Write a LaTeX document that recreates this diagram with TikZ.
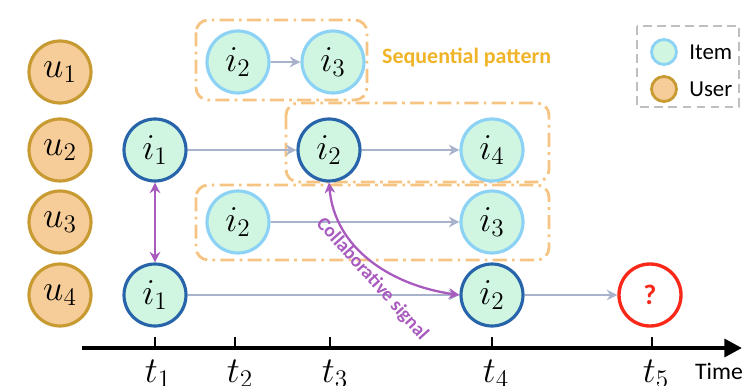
\documentclass[tikz,border=0pt]{standalone}
\usepackage{fontspec}
\setsansfont{Carlito}
\usetikzlibrary{arrows.meta,positioning}

\definecolor{userfill}{RGB}{246,204,152}
\definecolor{userline}{RGB}{200,154,50}
\definecolor{itemfill}{RGB}{208,246,226}
\definecolor{itemline}{RGB}{140,210,245}
\definecolor{curline}{RGB}{40,100,170}
\definecolor{flowgray}{RGB}{168,178,204}
\definecolor{patorange}{RGB}{246,196,130}
\definecolor{seqtext}{RGB}{240,180,40}
\definecolor{collab}{RGB}{168,90,190}
\definecolor{qred}{RGB}{250,40,25}

\begin{document}
\begin{tikzpicture}[
        x=0.02cm, y=-0.02cm,
        user/.style={circle, draw=userline, fill=userfill, line width=1.8pt, minimum size=1.24cm, inner sep=0pt, font=\fontsize{22}{26}\selectfont},
        item/.style={circle, draw=itemline, fill=itemfill, line width=1.8pt, minimum size=1.24cm, inner sep=0pt, font=\fontsize{22}{26}\selectfont},
        cur/.style={item, draw=curline},
        flow/.style={-{Stealth[length=6pt,width=6pt]}, draw=flowgray, line width=1.3pt},
        pattern/.style={draw=patorange, rounded corners=7pt, line width=1.6pt, dash pattern=on 8pt off 3pt on 1.5pt off 3pt},
        tick/.style={font=\fontsize{22}{26}\selectfont}
    ]
        \useasboundingbox (0,0) rectangle (753,385);

        % pattern boxes
        \draw[pattern] (196,20) rectangle (367,100);
        \draw[pattern] (286,103) rectangle (549,182);
        \draw[pattern] (196,185) rectangle (549,260);
        \node[font=\sffamily\bfseries\fontsize{12.5}{14}\selectfont, text=seqtext, anchor=west] (seqlabel) at (376,58) {Sequential pattern};

        % users
        \node[user] (u1) at (60,72) {$u_1$};
        \node[user] (u2) at (60,150) {$u_2$};
        \node[user] (u3) at (60,222) {$u_3$};
        \node[user] (u4) at (60,295) {$u_4$};

        % items
        \node[item] (ua) at (238,62) {$i_2$};
        \node[item] (ub) at (333,62) {$i_3$};
        \node[cur] (ba) at (155,150) {$i_1$};
        \node[cur] (bb) at (329,150) {$i_2$};
        \node[item] (bc) at (492,150) {$i_4$};
        \node[item] (ca) at (238,222) {$i_2$};
        \node[item] (cb) at (492,222) {$i_3$};
        \node[cur] (da) at (155,295) {$i_1$};
        \node[cur] (db) at (492,295) {$i_2$};
        \node[circle, draw=qred, fill=white, line width=1.9pt, minimum size=1.24cm, inner sep=0pt, text=qred, font=\sffamily\bfseries\fontsize{16}{18}\selectfont] (query) at (650,295) {?};

        % sequences
        \draw[flow] (ua) -- (ub);
        \draw[flow] (ba) -- (bb);
        \draw[flow] (bb) -- (bc);
        \draw[flow] (ca) -- (cb);
        \draw[flow] (da) -- (db);
        \draw[flow] (db) -- (query);

        % collaborative links
        \draw[{Stealth[length=6pt,width=6pt]}-{Stealth[length=6pt,width=6pt]}, draw=collab, line width=1.3pt] (ba) -- (da);
        \draw[{Stealth[length=6pt,width=6pt]}-{Stealth[length=6pt,width=6pt]}, draw=collab, line width=1.3pt] (bb.south) to[out=-85, in=172] (db.west);
        \node[rotate=-48, text=collab, font=\sffamily\bfseries\fontsize{11}{12}\selectfont] (collabel) at (372,279) {Collaborative signal};

        % legend
        \draw[draw=gray!50, line width=1.3pt, dash pattern=on 5pt off 3pt] (637,26) rectangle (739,107);
        \node[circle, draw=itemline, fill=itemfill, line width=1.6pt, minimum size=0.5cm, inner sep=0pt] (legitem) at (664,52) {};
        \node[circle, draw=userline, fill=userfill, line width=1.6pt, minimum size=0.5cm, inner sep=0pt] (leguser) at (664,89) {};
        \node[right=3pt of legitem, font=\sffamily\fontsize{13}{15}\selectfont] (legitemtxt) {Item};
        \node[right=3pt of leguser, font=\sffamily\fontsize{13}{15}\selectfont] (legusertxt) {User};

        % time axis
        \coordinate (axstart) at (82,348);
        \coordinate (axend) at (742,348);
        \draw[line width=2.4pt, -{Triangle[length=10pt,width=10pt]}] (axstart) -- (axend);
        \draw[line width=1.6pt] (155,348) -- (155,337);
        \draw[line width=1.6pt] (235,348) -- (235,337);
        \draw[line width=1.6pt] (330,348) -- (330,337);
        \draw[line width=1.6pt] (492,348) -- (492,337);
        \draw[line width=1.6pt] (652,348) -- (652,337);
        \node[tick] (t1) at (158,374) {$t_1$};
        \node[tick] (t2) at (240,374) {$t_2$};
        \node[tick] (t3) at (335,374) {$t_3$};
        \node[tick] (t4) at (496,374) {$t_4$};
        \node[tick] (t5) at (656,374) {$t_5$};
        \node[font=\sffamily\fontsize{13.5}{15}\selectfont] (timelabel) at (719,371) {Time};
    \end{tikzpicture}
\end{document}
